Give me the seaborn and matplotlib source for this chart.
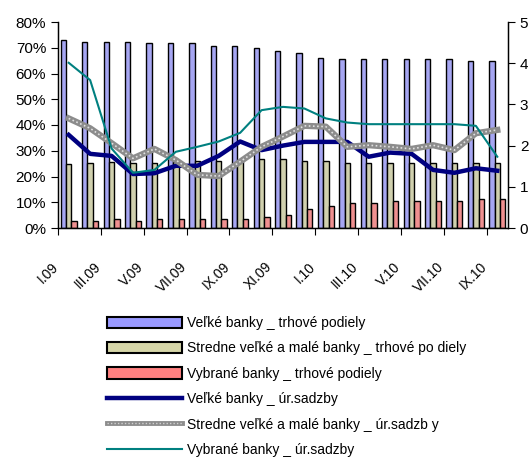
import numpy as np
import pandas as pd
import matplotlib
matplotlib.use("Agg")
import matplotlib.pyplot as plt
from matplotlib.lines import Line2D
from matplotlib.patches import Patch
from matplotlib.legend_handler import HandlerTuple
import matplotlib.transforms as mtrans
import seaborn as sns

months = ["I.09", "II.09", "III.09", "IV.09", "V.09", "VI.09", "VII.09", "VIII.09",
          "IX.09", "X.09", "XI.09", "XII.09", "I.10", "II.10", "III.10", "IV.10",
          "V.10", "VI.10", "VII.10", "VIII.10", "IX.10"]

velke_podiel = [73.0, 72.4, 72.4, 72.4, 71.7, 71.7, 71.7, 70.8, 70.8, 70.0, 68.7,
                68.0, 66.1, 65.5, 65.5, 65.5, 65.5, 65.5, 65.5, 64.7, 64.7]
stredne_podiel = [24.7, 25.4, 25.6, 25.4, 25.4, 25.5, 26.0, 26.0, 26.0, 26.8, 26.7,
                  26.0, 26.0, 25.4, 25.4, 25.4, 25.4, 25.4, 25.4, 25.4, 25.4]
vybrane_podiel = [2.7, 2.7, 3.5, 2.7, 3.5, 3.5, 3.5, 3.5, 3.5, 4.1, 4.9,
                  7.3, 8.7, 9.6, 9.6, 10.4, 10.4, 10.4, 10.4, 11.1, 11.1]

velke_sadzby = [2.26, 1.80, 1.75, 1.31, 1.33, 1.51, 1.51, 1.75, 2.10, 1.89, 2.00,
                2.09, 2.09, 2.09, 1.73, 1.83, 1.80, 1.41, 1.34, 1.45, 1.39]
stredne_sadzby = [2.66, 2.42, 2.06, 1.69, 1.92, 1.65, 1.29, 1.26, 1.61, 1.97, 2.22,
                  2.48, 2.46, 1.97, 2.01, 1.97, 1.92, 2.01, 1.89, 2.30, 2.38]
vybrane_sadzby = [4.01, 3.59, 1.93, 1.34, 1.41, 1.85, 1.97, 2.10, 2.31, 2.86, 2.94,
                  2.90, 2.66, 2.56, 2.52, 2.52, 2.52, 2.52, 2.52, 2.48, 1.73]

bar_names = ["Veľké banky _ trhové podiely",
             "Stredne veľké a malé banky _ trhové po diely",
             "Vybrané banky _ trhové podiely"]
line_names = ["Veľké banky _ úr.sadzby",
              "Stredne veľké a malé banky _ úr.sadzb y",
              "Vybrané banky _ úr.sadzby"]

bar_colors = ["#9999ff", "#d6d6a8", "#ff8080"]

plt.rcParams['font.family'] = ['Liberation Sans', 'DejaVu Sans']

df_bars = pd.DataFrame({
    "month": months * 3,
    "value": velke_podiel + stredne_podiel + vybrane_podiel,
    "series": sum([[n] * len(months) for n in bar_names], []),
})

fig = plt.figure(figsize=(5.29, 4.58), dpi=100)
ax = fig.add_axes([58 / 529, 1 - 228 / 458, 450 / 529, 206 / 458])

sns.barplot(data=df_bars, x="month", y="value", hue="series", order=months,
            hue_order=bar_names, palette=bar_colors, width=0.75,
            edgecolor="black", linewidth=1.0, ax=ax, legend=False)

ax.set_ylim(0, 80)
ax.set_xlim(-0.5, len(months) - 0.5)
ax.set_yticks(np.arange(0, 81, 10))
ax.set_yticklabels([f"{v}%" for v in range(0, 81, 10)], fontsize=11)
ax.set_xlabel("")
ax.set_ylabel("")

# x ticks: marks at category boundaries every 2 months
ax.set_xticks(np.arange(-0.5, len(months), 2))
ax.set_xticklabels([])
ax.tick_params(axis="x", which="major", length=5, direction="out", color="black")
ax.tick_params(axis="y", length=5, direction="out", color="black")

# month labels every 2 months, rotated, anchored left of category center
label_trans = mtrans.blended_transform_factory(ax.transData, ax.transAxes) + \
    mtrans.ScaledTranslation(0, -26.5 / 72, fig.dpi_scale_trans)
for i in range(0, len(months), 2):
    ax.text(i - 0.6, 0, months[i], transform=label_trans, rotation=45,
            ha="right", va="center", rotation_mode="anchor", fontsize=10)

ax.spines["top"].set_visible(False)
for s in ["left", "bottom", "right"]:
    ax.spines[s].set_color("black")
    ax.spines[s].set_linewidth(1.0)
ax.set_facecolor("white")
ax.grid(False)

ax2 = ax.twinx()
xs = np.arange(len(months))
df_lines = pd.DataFrame({"x": xs, "v": velke_sadzby, "s": stredne_sadzby, "b": vybrane_sadzby})
sns.lineplot(data=df_lines, x="x", y="v", color="#000080", linewidth=3.2, ax=ax2)
sns.lineplot(data=df_lines, x="x", y="s", color="#8c8c8c", linewidth=4.5, ax=ax2)
sns.lineplot(data=df_lines, x="x", y="s", color="#e0e0e0", linewidth=1.2,
             linestyle=(0, (1, 1.5)), ax=ax2)
sns.lineplot(data=df_lines, x="x", y="b", color="#008080", linewidth=1.5, ax=ax2)
ax2.set_ylim(0, 5)
ax2.set_xlim(-0.5, len(months) - 0.5)
ax2.set_yticks(range(0, 6))
ax2.set_yticklabels([str(v) for v in range(0, 6)], fontsize=11)
ax2.set_ylabel("")
ax2.set_xlabel("")
ax2.tick_params(axis="y", length=5, direction="out", color="black")
ax2.spines["top"].set_visible(False)
ax2.spines["right"].set_color("black")
ax2.grid(False)

handles = [
    Patch(facecolor=bar_colors[0], edgecolor="black", linewidth=1.5),
    Patch(facecolor=bar_colors[1], edgecolor="black", linewidth=1.5),
    Patch(facecolor=bar_colors[2], edgecolor="black", linewidth=1.5),
    Line2D([], [], color="#000080", linewidth=3.2),
    (Line2D([], [], color="#8c8c8c", linewidth=3.5),
     Line2D([], [], color="#d0d0d0", linewidth=1.0, linestyle=(0, (1, 1.5)))),
    Line2D([], [], color="#008080", linewidth=1.5),
]
fig.legend(handles, bar_names + line_names, loc="upper left",
           bbox_to_anchor=(107 / 529, 1 - 316 / 458), frameon=False,
           fontsize=10, handlelength=5.4, handleheight=0.85, labelspacing=0.82,
           handletextpad=0.35, borderpad=0, borderaxespad=0,
           handler_map={tuple: HandlerTuple(ndivide=1, pad=0)})

fig.savefig("out.png", dpi=100, facecolor="white")
